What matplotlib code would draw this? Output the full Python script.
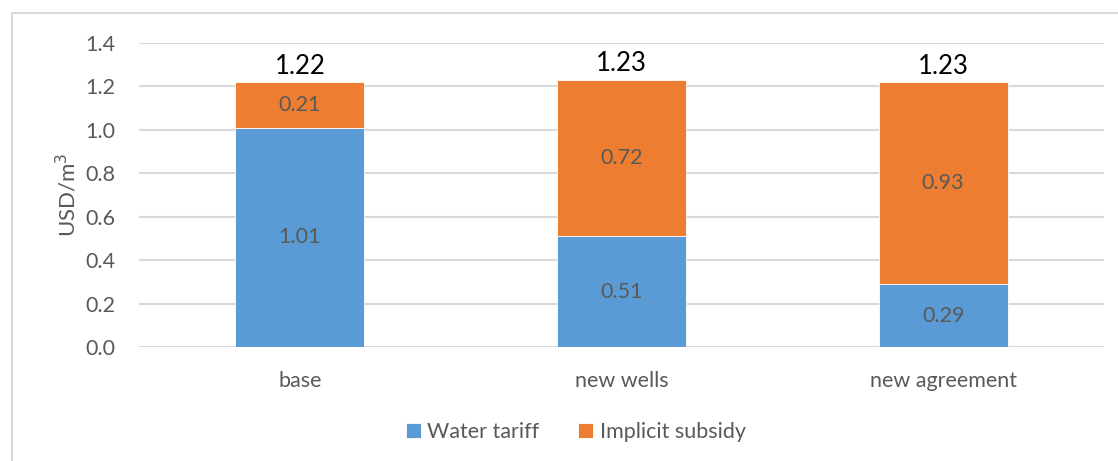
import numpy as np
import matplotlib
matplotlib.use("Agg")
import matplotlib.pyplot as plt
from matplotlib.patches import Rectangle

plt.rcParams['font.family'] = ['Lato', 'DejaVu Sans']

# data
scenarios = ["base", "new wells", "new agreement"]
water_tariff = [1.01, 0.51, 0.29]
implicit_subsidy = [0.21, 0.72, 0.93]
totals = [1.22, 1.23, 1.23]
yticks = [0.0, 0.2, 0.4, 0.6, 0.8, 1.0, 1.2, 1.4]

blue = "#5B9BD5"
orange = "#ED7D31"
grey_txt = "#595959"
fs = 15.5

fig = plt.figure(figsize=(11.18, 4.61), dpi=100)
ax = fig.add_axes([0.1243, 0.2473, 0.8632, 0.6594])

# chart border (only left and top visible in the crop)
fig.patches.append(Rectangle((12 / 1118, -0.05), 1.2, 1 - 13 / 461 + 0.05,
                             transform=fig.transFigure, fill=False,
                             edgecolor="#D9D9D9", linewidth=1.5, zorder=0))

x = np.arange(len(scenarios))
b1 = ax.bar(x, water_tariff, width=0.4, color=blue, edgecolor="white",
            linewidth=0.6, label="Water tariff", zorder=3)
b2 = ax.bar(x, implicit_subsidy, width=0.4, bottom=water_tariff, color=orange,
            edgecolor="white", linewidth=0.6, label="Implicit subsidy", zorder=3)

for i in range(len(scenarios)):
    ax.text(x[i], water_tariff[i] / 2, f"{water_tariff[i]:.2f}", ha="center",
            va="center", fontsize=fs, color=grey_txt, zorder=4)
    ax.text(x[i], water_tariff[i] + implicit_subsidy[i] / 2, f"{implicit_subsidy[i]:.2f}",
            ha="center", va="center", fontsize=fs, color=grey_txt, zorder=4)
    ax.annotate(f"{totals[i]:.2f}", xy=(x[i], water_tariff[i] + implicit_subsidy[i]),
                xytext=(0, 11.5), textcoords="offset points", ha="center",
                va="center", fontsize=18.5, color="black")

ax.set_xlim(-0.5, len(scenarios) - 0.5)
ax.set_ylim(0, 1.4)
ax.set_yticks(yticks)
ax.set_yticklabels([f"{t:.1f}" for t in yticks])
ax.set_xticks(x)
ax.set_xticklabels(scenarios)
ax.tick_params(axis="both", length=0, labelsize=fs, colors=grey_txt)
ax.tick_params(axis="y", pad=17)
ax.tick_params(axis="x", pad=17)
ax.grid(axis="y", color="#D9D9D9", linewidth=1.5, zorder=0)
for s in ax.spines.values():
    s.set_visible(False)

ax.set_ylabel("USD/m$^3$", fontsize=16, color=grey_txt, labelpad=4)

fig.legend(handles=[b1, b2], loc="center", bbox_to_anchor=(0.515, 1 - 432 / 461),
           ncol=2, frameon=False, fontsize=fs, handlelength=0.7, handleheight=0.7,
           handletextpad=0.3, columnspacing=1.8, labelcolor=grey_txt)

fig.savefig("out.png", dpi=100)
